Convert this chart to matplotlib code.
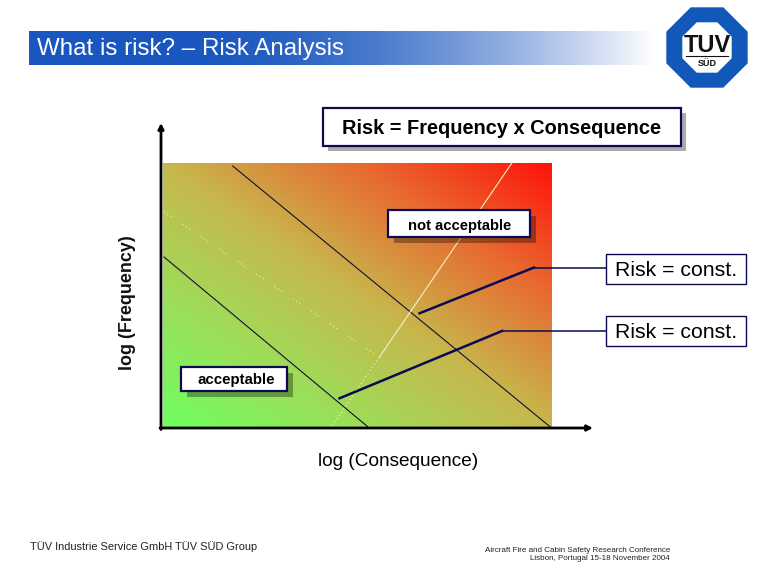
import matplotlib
matplotlib.use('Agg')
import matplotlib.pyplot as plt
import numpy as np
from matplotlib.patches import Polygon, Rectangle

plt.rcParams['font.family'] = ['Liberation Sans', 'DejaVu Sans']

title_text = 'What is risk? \u2013 Risk Analysis'
formula_text = 'Risk = Frequency x Consequence'
x_label = 'log (Consequence)'
y_label = 'log (Frequency)'
const_label = 'Risk = const.'
footer_left = 'T\u00dcV Industrie Service GmbH T\u00dcV S\u00dcD Group'
footer_right = ['Aircraft Fire and Cabin Safety Research Conference',
                'Lisbon, Portugal 15-18 November 2004']

# risk lines, in picture pixels
upper_x = [232.7, 550]
upper_y = [166, 426.7]
lower_x = [164, 367.7]
lower_y = [257, 426.7]
middle_x = [164, 379]
middle_y = [211.7, 357]
cross_solid_x = [511.7, 379.3]
cross_solid_y = [163.3, 357.3]
cross_dot_x = [379.3, 331.7]
cross_dot_y = [357.3, 426.7]
leader1_x = [419.5, 534, 606]
leader1_y = [313.3, 267.5, 267.5]
leader2_x = [339.5, 502, 606]
leader2_y = [398.3, 331, 331]

fig = plt.figure(figsize=(7.8, 5.7), dpi=100)
ax = fig.add_axes([0, 0, 1, 1])

# title band, blue fading out to white
band = np.ones((1, 300, 3))
fade = np.clip((np.linspace(0, 1, 300) - 0.25) / 0.75, 0, 1) ** 1.7
for i, c in enumerate((0.10, 0.34, 0.75)):
    band[0, :, i] = c + (1 - c) * fade
ax.imshow(band, extent=(29, 655, 65, 31), aspect='auto', zorder=1)
ax.text(37, 49, title_text, color='white', fontsize=17.4, va='center', zorder=2)

# logo
def octagon(x0, x1, y0, y1, cut):
    return [(x0 + cut, y0), (x1 - cut, y0), (x1, y0 + cut), (x1, y1 - cut),
            (x1 - cut, y1), (x0 + cut, y1), (x0, y1 - cut), (x0, y0 + cut)]

ax.add_patch(Polygon(octagon(667, 747, 8, 87, 24), color='#1258b8', zorder=2))
ax.add_patch(Polygon(octagon(683, 731, 23, 72, 14), color='white', zorder=3))
ax.text(707, 45, 'TUV', color='#111111', fontsize=17, fontweight='bold',
        ha='center', va='center', zorder=4)
ax.plot([686, 728], [55.5, 55.5], color='#111111', lw=0.8, zorder=4)
ax.text(707, 63, 'S\u00dcD', color='#111111', fontsize=6.5, fontweight='bold',
        ha='center', va='center', zorder=4)

# gradient panel
gx, gy = np.meshgrid(np.linspace(0, 1, 300), np.linspace(1, 0, 200))
t = (gx + gy) / 2
green = np.array([0.43, 1.0, 0.38])
mid = np.array([0.78, 0.72, 0.30])
red = np.array([1.0, 0.07, 0.04])
panel = np.zeros((200, 300, 3))
for i in range(3):
    panel[:, :, i] = np.interp(t, [0, 0.25, 0.5, 0.75, 1],
                               [green[i], (green[i] + mid[i]) / 2 + 0.01, mid[i],
                                (mid[i] + red[i]) / 2 + 0.02, red[i]])
ax.imshow(panel, extent=(163, 552, 427, 163), aspect='auto', zorder=1)
ax.set_xlim(0, 780)
ax.set_ylim(570, 0)
ax.axis('off')

ax.plot(upper_x, upper_y, color='#101030', lw=0.8, zorder=3)
ax.plot(lower_x, lower_y, color='#101030', lw=0.8, zorder=3)
ax.plot(middle_x, middle_y, color='#e8f0b0', lw=0.8, ls=(0, (1, 2.5, 1, 2.5, 1, 12)), zorder=3)
ax.plot(cross_solid_x, cross_solid_y, color='#f4f0c0', lw=0.8, zorder=3)
ax.plot(cross_dot_x, cross_dot_y, color='#f4f8c0', lw=0.8, ls=(0, (1, 2.5)), zorder=3)

# axes arrows
ax.annotate('', xy=(161, 123), xytext=(161, 429.5), zorder=5,
            arrowprops=dict(arrowstyle='-|>', color='black', lw=2, mutation_scale=8,
                            shrinkA=0, shrinkB=0))
ax.annotate('', xy=(593, 428), xytext=(160, 428), zorder=5,
            arrowprops=dict(arrowstyle='-|>', color='black', lw=2, mutation_scale=8,
                            shrinkA=0, shrinkB=0))
ax.text(398, 461, x_label, fontsize=13.7, ha='center', va='center', color='black')
ax.text(127, 303, y_label, fontsize=12.9, fontweight='bold', rotation=90, ha='center',
        va='center', color='#111111')

# leaders, slanted part heavier than the run to the box
ax.plot(leader1_x[:2], leader1_y[:2], color='#0a0a50', lw=1.8, zorder=4)
ax.plot(leader1_x[1:], leader1_y[1:], color='#0a0a50', lw=1.1, zorder=4)
ax.plot(leader2_x[:2], leader2_y[:2], color='#0a0a50', lw=1.8, zorder=4)
ax.plot(leader2_x[1:], leader2_y[1:], color='#0a0a50', lw=1.1, zorder=4)

# boxes
def box(x0, y0, x1, y1, text, size, shadow=None, bold=True, lw=1.6, dx=0, dy=0):
    if shadow:
        ax.add_patch(Rectangle((x0 + shadow, y0 + shadow), x1 - x0, y1 - y0, color='black',
                               alpha=0.33, lw=0, zorder=5))
    ax.add_patch(Rectangle((x0, y0), x1 - x0, y1 - y0, facecolor='white', edgecolor='#0a0a50',
                           lw=lw, zorder=6))
    ax.text((x0 + x1) / 2 + dx, (y0 + y1) / 2 + dy, text, fontsize=size, ha='center',
            va='center', fontweight='bold' if bold else 'normal', color='black', zorder=7)

box(323, 108, 681, 146, formula_text, 14.4, shadow=5, dy=1)
box(387.5, 210, 529.5, 236.5, 'not acceptable', 10.6, shadow=6, dx=1, dy=3)
box(180.5, 367, 286.5, 391, 'acceptable', 10.8, shadow=6, dx=3, dy=1)
box(606, 254, 745.5, 283.5, const_label, 15.3, bold=False, lw=1, dy=1.5)
box(606, 316, 745.5, 345.5, const_label, 15.3, bold=False, lw=1, dy=1.5)

# footer
ax.text(30, 547, footer_left, fontsize=7.9, va='center', color='#222222')
ax.text(670, 550, footer_right[0], fontsize=5.8, ha='right', va='center', color='#222222')
ax.text(670, 559, footer_right[1], fontsize=5.8, ha='right', va='center', color='#222222')

fig.savefig('out.png', dpi=100)
